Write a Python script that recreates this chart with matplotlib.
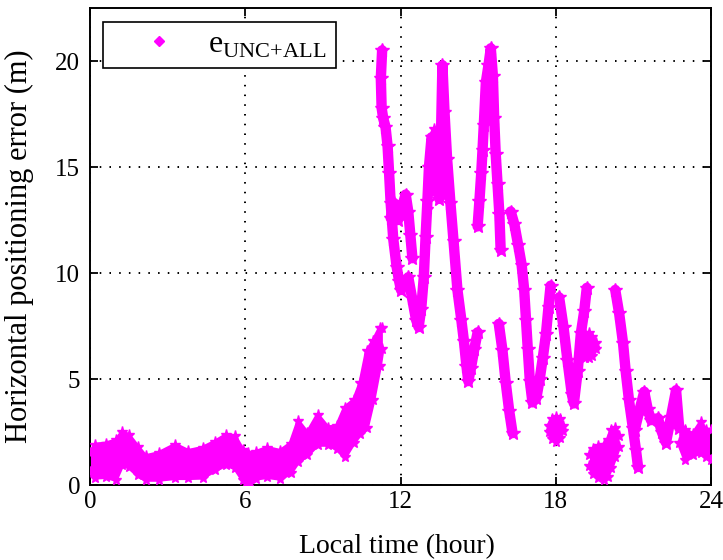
import matplotlib
matplotlib.use('Agg')
import matplotlib.pyplot as plt

plt.rcParams['font.family'] = ['Liberation Serif', 'DejaVu Serif']
plt.rcParams['mathtext.fontset'] = 'custom'
plt.rcParams['mathtext.rm'] = 'Liberation Serif'
plt.rcParams['mathtext.tt'] = 'Liberation Mono'

# ---------------- data ----------------
x_ticks = [0, 6, 12, 18, 24]
y_ticks = [0, 5, 10, 15, 20]
legend_label = r'$\mathrm{e}_{\mathrm{UNC{+}ALL}}$'

# dense point clouds: lower / upper envelope of the cloud
band_a_t  = [0.0, 0.2, 0.6, 1.0, 1.25, 1.5, 1.85, 2.15, 2.65, 3.3, 3.8, 4.35, 4.85, 5.25, 5.6, 5.9, 6.1, 6.4,
             6.85, 7.35, 7.75, 8.05, 8.4, 8.8, 9.2, 9.55, 9.85, 10.2, 10.45, 10.7, 10.95, 11.2, 11.3]
band_a_lo = [0.6, 0.35, 0.38, 0.25, 0.95, 0.85, 0.45, 0.25, 0.25, 0.33, 0.33, 0.35, 0.7, 0.95, 0.8, 0.25, -0.1, 0.3,
             0.38, 0.3, 0.55, 1.1, 1.4, 1.9, 1.9, 1.7, 1.3, 2.0, 2.4, 2.7, 4.0, 5.6, 6.4]
band_a_hi = [1.5, 1.9, 1.95, 2.1, 2.5, 2.35, 1.8, 1.35, 1.5, 1.9, 1.6, 1.75, 2.05, 2.35, 2.3, 1.65, 1.5, 1.55,
             1.75, 1.6, 1.95, 3.0, 2.45, 3.3, 2.7, 2.8, 3.65, 4.0, 4.8, 6.3, 6.8, 7.4, 7.4]

band_b_t  = [17.72, 17.85, 18.0, 18.15, 18.28]
band_b_lo = [2.5, 2.15, 2.05, 2.2, 2.55]
band_b_hi = [2.8, 3.1, 3.2, 3.1, 2.8]

band_c_t  = [18.98, 19.12, 19.28, 19.42, 19.55]
band_c_lo = [6.3, 6.0, 6.0, 6.1, 6.4]
band_c_hi = [6.9, 7.1, 7.15, 7.0, 6.7]

band_d_t  = [19.3, 19.45, 19.65, 19.85, 20.0, 20.15, 20.3, 20.45]
band_d_lo = [0.9, 0.5, 0.35, 0.25, 0.4, 0.8, 1.3, 1.8]
band_d_hi = [1.4, 1.7, 1.85, 1.9, 2.1, 2.6, 2.7, 2.3]

band_e_t  = [22.75, 23.0, 23.3, 23.6, 23.8, 24.0]
band_e_lo = [2.0, 1.2, 1.4, 1.5, 1.3, 1.2]
band_e_hi = [2.7, 2.6, 2.4, 2.95, 2.6, 2.6]

band_f_t  = [13.08, 13.18, 13.28, 13.38, 13.48]
band_f_lo = [13.0, 13.8, 14.3, 13.9, 13.6]
band_f_hi = [15.0, 16.4, 16.8, 16.4, 15.6]

# traced strands of points
seg1_t = [11.29, 11.24, 11.27, 11.33, 11.42, 11.5, 11.56, 11.62, 11.72, 11.85, 11.95, 12.02]
seg1_e = [20.5, 19.2, 17.8, 17.3, 16.9, 16.0, 14.7, 13.3, 11.6, 10.3, 9.6, 9.2]

seg2_t = [11.62, 11.75, 11.9, 12.05, 12.2, 12.3, 12.38, 12.46]
seg2_e = [12.6, 13.3, 12.5, 13.1, 13.7, 12.9, 11.8, 10.7]

seg3_t = [12.3, 12.45, 12.6, 12.7, 12.8, 12.9, 12.97, 13.04, 13.1, 13.2, 13.3, 13.4, 13.5, 13.56, 13.62,
          13.7, 13.8, 13.93, 14.05, 14.2, 14.35, 14.45, 14.55, 14.62, 14.72, 14.85, 14.98]
seg3_e = [9.8, 8.8, 7.8, 7.45, 8.3, 9.8, 11.7, 13.4, 15.0, 16.4, 16.0, 15.2, 13.5, 16.2, 19.8,
          17.6, 15.4, 13.3, 11.5, 9.2, 7.8, 6.8, 5.6, 4.9, 5.5, 6.4, 7.2]

seg4_t = [14.98, 15.05, 15.12, 15.17, 15.22, 15.3, 15.4, 15.49, 15.57, 15.62, 15.68, 15.75, 15.82, 15.87]
seg4_e = [12.2, 13.4, 14.7, 15.8, 17.0, 19.0, 19.8, 20.6, 19.3, 17.3, 15.6, 14.2, 12.8, 11.1]

seg5_t = [15.8, 15.94, 16.07, 16.2, 16.33]
seg5_e = [7.6, 6.35, 4.8, 3.5, 2.45]

seg6_t = [16.26, 16.4, 16.55, 16.68, 16.78, 16.85, 16.92, 17.0, 17.1, 17.25, 17.38, 17.5, 17.62, 17.72, 17.8]
seg6_e = [12.9, 12.3, 11.3, 10.4, 9.2, 7.8, 6.4, 4.9, 3.9, 4.1, 5.0, 6.0, 7.1, 8.4, 9.4]

seg7_t = [18.13, 18.3, 18.45, 18.62, 18.7, 18.85, 18.97, 19.1, 19.2]
seg7_e = [8.85, 7.45, 5.9, 4.3, 3.85, 5.4, 7.15, 8.2, 9.3]

seg8_t = [20.3, 20.45, 20.6, 20.7, 20.83, 20.98, 21.1, 21.18]
seg8_e = [9.2, 8.1, 6.7, 5.4, 4.0, 2.7, 1.65, 0.85]

seg9_t = [21.05, 21.25, 21.42, 21.55, 21.68, 21.95, 22.1, 22.26, 22.45, 22.65, 22.77]
seg9_e = [2.6, 3.6, 4.4, 3.6, 3.06, 3.15, 2.5, 2.0, 3.2, 4.47, 2.7]

bands = [(band_a_t, band_a_lo, band_a_hi), (band_b_t, band_b_lo, band_b_hi),
         (band_c_t, band_c_lo, band_c_hi), (band_d_t, band_d_lo, band_d_hi),
         (band_e_t, band_e_lo, band_e_hi), (band_f_t, band_f_lo, band_f_hi)]
segments = [(seg1_t, seg1_e), (seg2_t, seg2_e), (seg3_t, seg3_e), (seg4_t, seg4_e),
            (seg5_t, seg5_e), (seg6_t, seg6_e), (seg7_t, seg7_e), (seg8_t, seg8_e),
            (seg9_t, seg9_e)]

# ---------------- drawing ----------------
MAG = '#ff00ff'
fig = plt.figure(figsize=(7.23, 5.6), dpi=100)
ax = fig.add_axes([90 / 723, 75 / 560, 621 / 723, 477 / 560])

for t, lo, hi in bands:
    ax.fill_between(t, lo, hi, color=MAG, lw=0, zorder=2)
    ax.plot(t, lo, color=MAG, lw=3, marker='*', ms=8, zorder=3)
    ax.plot(t, hi, color=MAG, lw=3, marker='*', ms=8, zorder=3)

for t, e in segments:
    ax.plot(t, e, color=MAG, lw=7.5, marker='*', ms=10,
            solid_joinstyle='round', solid_capstyle='round', zorder=3)

proxy, = ax.plot([], [], ls='none', marker='D', color=MAG, ms=5, label=legend_label)

ax.set_xlim(0, 24)
ax.set_ylim(0, 22.5)
ax.set_xticks(x_ticks)
ax.set_yticks(y_ticks)
ax.grid(True, color='black', linestyle=(0, (0.8, 4.2)), linewidth=1.4)
ax.set_axisbelow(True)

for s in ax.spines.values():
    s.set_linewidth(1.4)
    s.set_color('black')
ax.tick_params(direction='in', length=6, width=1.3, top=True, right=True,
               labelsize=18, colors='black')
ax.tick_params(axis='x', pad=4)
ax.tick_params(axis='y', pad=7)

ax.set_xlabel('Local time (hour)', fontsize=20)
ax.set_ylabel('Horizontal positioning error (m)', fontsize=22)
ax.xaxis.set_label_coords(0.495, -0.103)
ax.yaxis.set_label_coords(-0.09, 0.5)

leg = ax.legend(handles=[proxy], loc='upper left',
                bbox_to_anchor=(0.0209, 0.847, 0.375, 0.1236), mode='expand',
                borderaxespad=0, fontsize=23, frameon=True, fancybox=False,
                framealpha=1, edgecolor='black', handlelength=3.0,
                handletextpad=0.05, borderpad=0.25)
leg.get_frame().set_linewidth(1.2)

fig.savefig('out.png', dpi=100, facecolor='white')
